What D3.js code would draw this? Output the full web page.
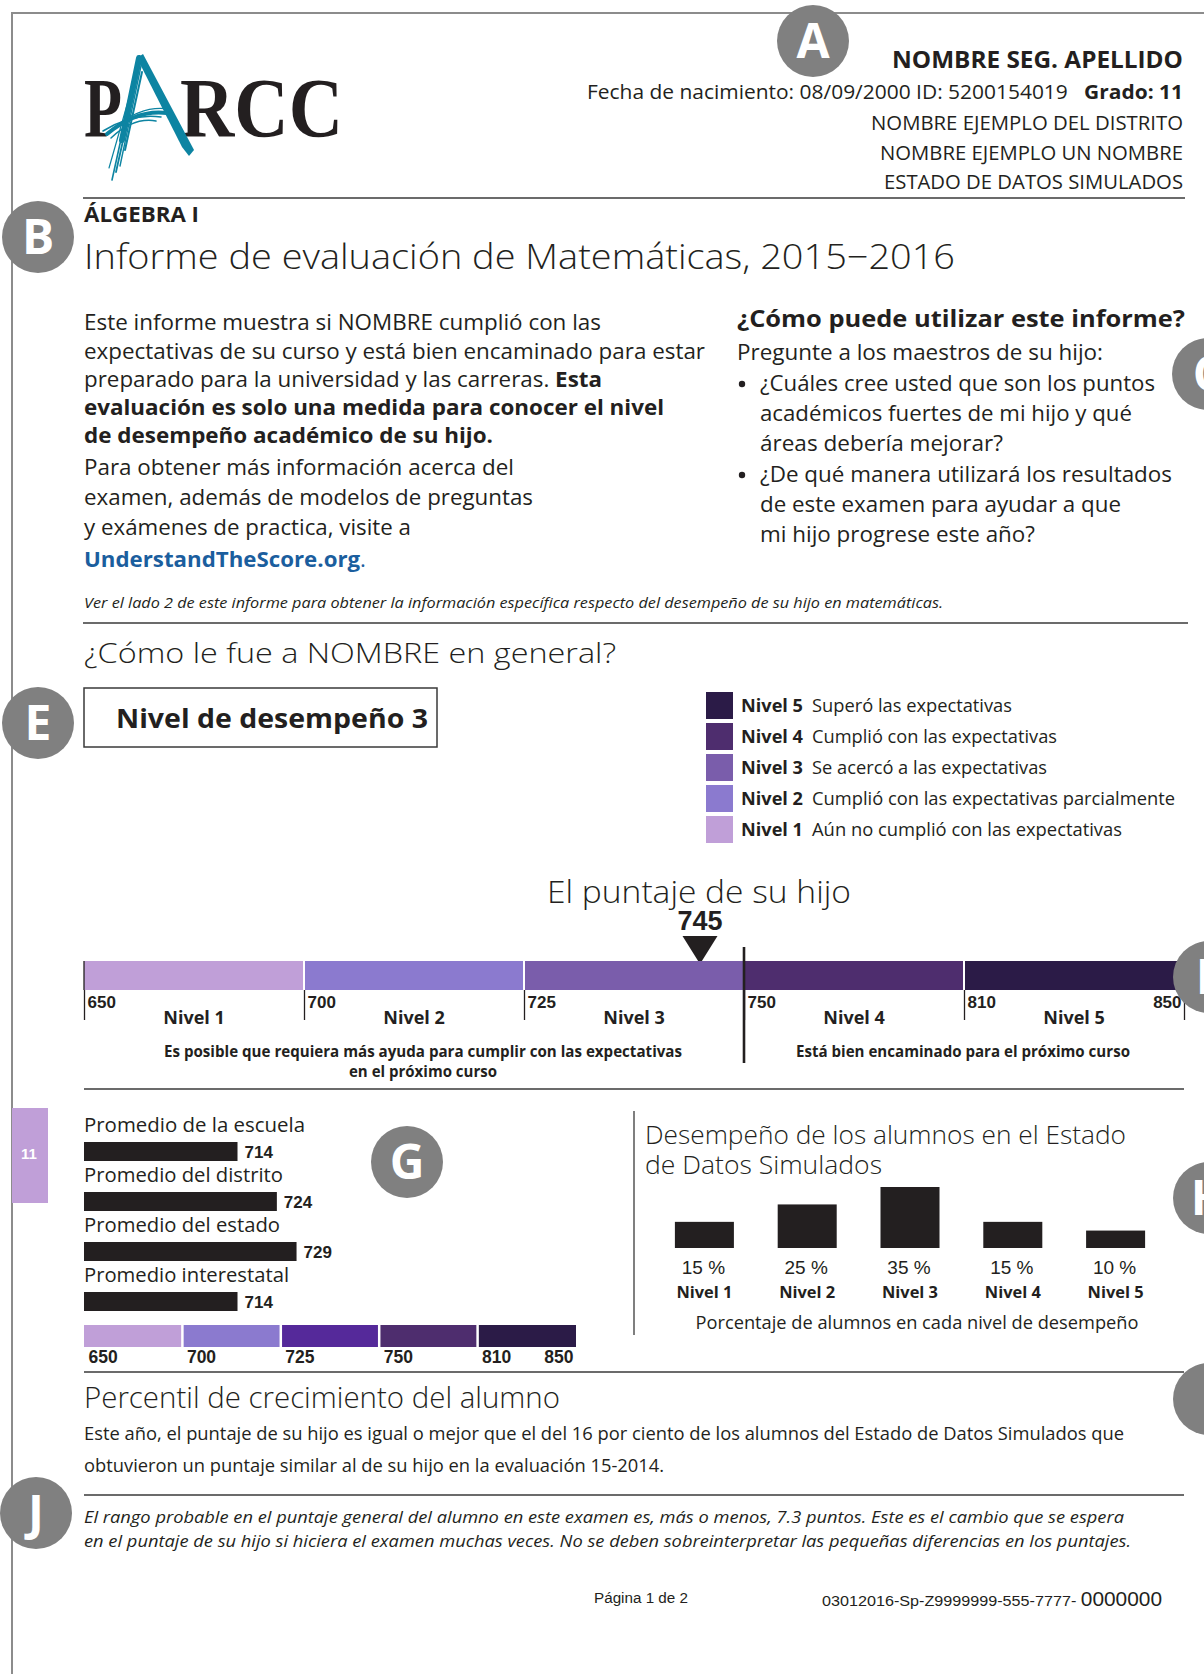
<!DOCTYPE html>
<html>
<head>
<meta charset="utf-8">
<script src="https://cdn.jsdelivr.net/npm/d3@7"></script>
<style>
  html, body { margin: 0; padding: 0; background: #fff; }
  svg { display: block; }
</style>
</head>
<body>
<div id="page"></div>
<script>
// ---- report data ----
const levelNames = ['Nivel 1', 'Nivel 2', 'Nivel 3', 'Nivel 4', 'Nivel 5'];
const levelDescriptions = [
  'Aún no cumplió con las expectativas',
  'Cumplió con las expectativas parcialmente',
  'Se acercó a las expectativas',
  'Cumplió con las expectativas',
  'Superó las expectativas'
];
const levelColors = ['#c09fd8', '#8b7acf', '#7a5dab', '#4e2d6e', '#2b1b47'];
const rangeColors = ['#c09fd8', '#8b7acf', '#55299a', '#4e2d6e', '#2b1b47'];
const cutScores = [650, 700, 725, 750, 810, 850];
const studentScore = 745;
const studentLevel = 3;
const averageLabels = ['Promedio de la escuela', 'Promedio del distrito', 'Promedio del estado', 'Promedio interestatal'];
const averageScores = [714, 724, 729, 714];
const statePercents = [15, 25, 35, 15, 10];
const growthPercentile = 16;
const scoreRange = 7.3;

const headerLines = [
  'NOMBRE EJEMPLO DEL DISTRITO',
  'NOMBRE EJEMPLO UN NOMBRE',
  'ESTADO DE DATOS SIMULADOS'
];
const introLines = [
  [['Este informe muestra si NOMBRE cumplió con las']],
  [['expectativas de su curso y está bien encaminado para estar']],
  [['preparado para la universidad y las carreras. '], ['Esta', 700]],
  [['evaluación es solo una medida para conocer el nivel', 700]],
  [['de desempeño académico de su hijo.', 700]],
  [['Para obtener más información acerca del']],
  [['examen, además de modelos de preguntas']],
  [['y exámenes de practica, visite a']],
  [['UnderstandTheScore.org', 700, '#1b5e9e'], ['.', 400, '#1b5e9e']]
];
const questionLines = [
  ['¿Cuáles cree usted que son los puntos', 'académicos fuertes de mi hijo y qué', 'áreas debería mejorar?'],
  ['¿De qué manera utilizará los resultados', 'de este examen para ayudar a que', 'mi hijo progrese este año?']
];

// ---- page ----
const W = 1204, H = 1674;
const ink = '#231f20';
const SANS = '"Open Sans", "Noto Sans", sans-serif';
const ARIAL = '"Liberation Sans", Arial, sans-serif';

const svg = d3.select('#page').append('svg')
  .attr('width', W).attr('height', H)
  .attr('viewBox', `0 0 ${W} ${H}`)
  .style('font-family', SANS);

function label(g, o) {
  const t = g.append('text')
    .attr('x', o.x).attr('y', o.y)
    .attr('font-family', o.family || SANS)
    .attr('font-size', o.size)
    .attr('font-weight', o.weight || 400)
    .attr('font-style', o.italic ? 'italic' : null)
    .attr('text-anchor', o.anchor || 'start')
    .attr('fill', o.fill || ink);
  const runs = Array.isArray(o.text) ? o.text : [[o.text]];
  runs.forEach(([s, w, f, sz]) => {
    t.append('tspan').text(s)
      .attr('font-weight', w || null)
      .attr('fill', f || null)
      .attr('font-size', sz || null);
  });
  if (o.fit) t.attr('textLength', o.fit).attr('lengthAdjust', 'spacingAndGlyphs');
  return t;
}

function rule(y, x1, x2, w) {
  svg.append('line').attr('x1', x1).attr('x2', x2).attr('y1', y).attr('y2', y)
    .attr('stroke', '#3a3a3a').attr('stroke-width', w || 1.5);
}

// page border
svg.append('path').attr('d', `M${W},13 H12 V${H}`)
  .attr('fill', 'none').attr('stroke', '#8c8c8c').attr('stroke-width', 2);

// ---- logo ----
const logo = svg.append('g');
const serif = '"Liberation Serif", "DejaVu Serif", serif';
label(logo, { x: 84, y: 137, text: 'P', size: 84, weight: 700, family: serif, fit: 38 });
label(logo, { x: 180, y: 137, text: 'RCC', size: 84, weight: 700, family: serif, fit: 163 });
const teal = '#0d84a2';
const brush = logo.append('g').attr('transform', 'translate(-9,0)');
brush.append('path')
  .attr('d', 'M146,58 L152,54 L203,150 L198,156 L191,147 Z')
  .attr('fill', teal);
[[148, 58, 131, 140, 6], [147, 62, 121, 180, 1.6], [149, 64, 125, 172, 1.8], [150, 66, 129, 166, 1.4],
 [146, 70, 118, 168, 1.2], [151, 72, 134, 150, 2]].forEach(([x1, y1, x2, y2, w]) => {
  brush.append('line').attr('x1', x1).attr('y1', y1).attr('x2', x2).attr('y2', y2)
    .attr('stroke', teal).attr('stroke-width', w).attr('stroke-linecap', 'round');
});
[[116, 134, 176, 113, 4], [112, 131, 170, 117, 1.5], [120, 138, 165, 121, 1.5], [125, 126, 178, 109, 1.2]]
  .forEach(([x1, y1, x2, y2, w]) => {
    brush.append('path')
      .attr('d', `M${x1},${y1} Q${(x1 + x2) / 2},${Math.min(y1, y2) - 4} ${x2},${y2}`)
      .attr('fill', 'none').attr('stroke', teal).attr('stroke-width', w).attr('stroke-linecap', 'round');
  });

// ---- header ----
label(svg, { x: 1183, y: 68, text: 'NOMBRE SEG. APELLIDO', size: 24, weight: 700, anchor: 'end', fit: 291 });
label(svg, {
  x: 1183, y: 99, size: 20, anchor: 'end', fit: 596,
  text: [['Fecha de nacimiento: 08/09/2000 ID: 5200154019\u00a0\u00a0\u00a0'], ['Grado: 11', 700]]
});
const headerFits = [312, 303, 299];
headerLines.forEach((s, i) => {
  label(svg, { x: 1183, y: 130 + i * 29.5, text: s, size: 20, anchor: 'end', fit: headerFits[i] });
});
rule(198, 83, 1185);

label(svg, { x: 84, y: 222, text: 'ÁLGEBRA I', size: 21, weight: 700, fit: 115 });
label(svg, { x: 84, y: 269, text: 'Informe de evaluación de Matemáticas, 2015\u22122016', size: 35, weight: 300, fit: 871 });

// intro paragraph
const introY = [330, 359, 387, 415, 443, 475, 505, 535, 567];
const introFits = [517, 621, 518, 580, 409, 430, 449, 327, 282];
introLines.forEach((runs, i) => {
  label(svg, { x: 84, y: introY[i], text: runs, size: 21, fit: introFits[i] });
});

// questions column
label(svg, { x: 737, y: 327, text: '¿Cómo puede utilizar este informe?', size: 24, weight: 700, fit: 448 });
label(svg, { x: 737, y: 360, text: 'Pregunte a los maestros de su hijo:', size: 21, fit: 366 });
const qY = [[391, 421, 451], [482, 512, 542]];
const qFits = [[395, 372, 243], [412, 361, 275]];
questionLines.forEach((lines, i) => {
  svg.append('circle').attr('cx', 742).attr('cy', qY[i][0] - 7).attr('r', 3.2).attr('fill', ink);
  lines.forEach((s, j) => label(svg, { x: 760, y: qY[i][j], text: s, size: 21, fit: qFits[i][j] }));
});

label(svg, {
  x: 84, y: 608, size: 15, italic: true, fit: 859,
  text: 'Ver el lado 2 de este informe para obtener la información específica respecto del desempeño de su hijo en matemáticas.'
});
rule(623, 83, 1188);

// ---- overall performance ----
label(svg, { x: 84, y: 663, text: '¿Cómo le fue a NOMBRE en general?', size: 28, weight: 300, fit: 532 });
svg.append('rect').attr('x', 84).attr('y', 688).attr('width', 353).attr('height', 59)
  .attr('fill', 'none').attr('stroke', '#3a3a3a').attr('stroke-width', 1.5);
label(svg, { x: 116, y: 728, text: `Nivel de desempeño ${studentLevel}`, size: 27, weight: 700, fit: 312 });

// legend
const legendY = d3.scaleBand().domain(levelNames.slice().reverse()).range([692, 847]);
const legendFits = [310, 363, 235, 245, 200];
const legend = svg.append('g').selectAll('g').data(levelNames).join('g')
  .attr('transform', d => `translate(0,${legendY(d)})`);
legend.append('rect').attr('x', 706).attr('width', 27).attr('height', 27)
  .attr('fill', (d, i) => levelColors[i]);
legend.each(function (d, i) {
  const g = d3.select(this);
  label(g, { x: 741, y: 20, text: d, size: 18, weight: 700, fit: 62 });
  label(g, { x: 812, y: 20, text: levelDescriptions[i], size: 18, fit: legendFits[i] });
});

// score bar
const scoreX = d3.scaleLinear().domain(cutScores).range(cutScores.map((d, i) => 84 + i * 220));
const barTop = 961, barH = 29;
label(svg, { x: 699, y: 903, text: 'El puntaje de su hijo', size: 31, weight: 300, anchor: 'middle', fit: 304 });
label(svg, { x: scoreX(studentScore), y: 930, text: String(studentScore), size: 27, weight: 700, family: ARIAL, anchor: 'middle' });
const sx = scoreX(studentScore);
svg.append('path').attr('d', `M${sx - 17.5},936 L${sx + 17.5},936 L${sx},964 Z`).attr('fill', ink);

const segs = d3.pairs(cutScores);
svg.append('g').selectAll('rect').data(segs).join('rect')
  .attr('x', d => scoreX(d[0])).attr('y', barTop)
  .attr('width', d => scoreX(d[1]) - scoreX(d[0])).attr('height', barH)
  .attr('fill', (d, i) => levelColors[i]);
svg.append('g').selectAll('line').data(cutScores.slice(1, -1)).join('line')
  .attr('x1', d => scoreX(d)).attr('x2', d => scoreX(d))
  .attr('y1', barTop).attr('y2', barTop + barH)
  .attr('stroke', '#fff').attr('stroke-width', 2);

const scoreAxis = svg.append('g').attr('transform', `translate(0,${barTop + barH})`)
  .call(d3.axisBottom(scoreX).tickValues(cutScores).tickSize(30).tickFormat(d3.format('d')))
  .attr('font-family', ARIAL).attr('font-size', 17);
scoreAxis.select('.domain').remove();
scoreAxis.selectAll('.tick line').attr('stroke', ink).attr('stroke-width', 1.3);
scoreAxis.selectAll('.tick text')
  .attr('y', 18).attr('dy', null).attr('fill', ink).attr('font-weight', 700)
  .attr('x', d => d === 850 ? -3 : 3)
  .attr('text-anchor', d => d === 850 ? 'end' : 'start');
svg.append('line').attr('x1', scoreX(650)).attr('x2', scoreX(650))
  .attr('y1', barTop).attr('y2', barTop + barH).attr('stroke', ink).attr('stroke-width', 1.3);
svg.append('line').attr('x1', scoreX(750)).attr('x2', scoreX(750))
  .attr('y1', 947).attr('y2', 1063).attr('stroke', ink).attr('stroke-width', 2.6);

segs.forEach((d, i) => {
  label(svg, { x: (scoreX(d[0]) + scoreX(d[1])) / 2, y: 1024, text: levelNames[i], size: 18, weight: 700, anchor: 'middle' });
});
label(svg, { x: 423, y: 1057, text: 'Es posible que requiera más ayuda para cumplir con las expectativas', size: 15.5, weight: 700, anchor: 'middle', fit: 518 });
label(svg, { x: 423, y: 1077, text: 'en el próximo curso', size: 15.5, weight: 700, anchor: 'middle', fit: 148 });
label(svg, { x: 963, y: 1057, text: 'Está bien encaminado para el próximo curso', size: 15.5, weight: 700, anchor: 'middle', fit: 334 });
rule(1089, 84, 1184);

// ---- averages ----
svg.append('rect').attr('x', 12).attr('y', 1108).attr('width', 36).attr('height', 95).attr('fill', levelColors[0]);
label(svg, { x: 29, y: 1159, text: '11', size: 15, weight: 700, family: ARIAL, fill: '#fff', anchor: 'middle' });

const avgX = d3.scaleLinear().domain(cutScores).range(cutScores.map((d, i) => 84 + i * 98.4));
const rowY = d3.scaleBand().domain(averageLabels).range([1112, 1312]);
const avgRows = svg.append('g').selectAll('g').data(averageLabels).join('g')
  .attr('transform', d => `translate(0,${rowY(d)})`);
const avgFits = [221, 199, 196, 205];
avgRows.each(function (d, i) {
  const g = d3.select(this);
  label(g, { x: 84, y: 20, text: d, size: 20, fit: avgFits[i] });
  g.append('rect').attr('x', avgX(650)).attr('y', 30)
    .attr('width', avgX(averageScores[i]) - avgX(650)).attr('height', 19).attr('fill', ink);
  label(g, { x: avgX(averageScores[i]) + 7, y: 46, text: String(averageScores[i]), size: 17, weight: 700, family: ARIAL });
});

svg.append('g').selectAll('rect').data(segs).join('rect')
  .attr('x', d => avgX(d[0])).attr('y', 1325)
  .attr('width', d => avgX(d[1]) - avgX(d[0])).attr('height', 22)
  .attr('fill', (d, i) => rangeColors[i]);
svg.append('g').selectAll('line').data(cutScores.slice(1, -1)).join('line')
  .attr('x1', d => avgX(d)).attr('x2', d => avgX(d))
  .attr('y1', 1325).attr('y2', 1347)
  .attr('stroke', '#fff').attr('stroke-width', 2.5);
const avgAxis = svg.append('g').attr('transform', 'translate(0,1347)')
  .call(d3.axisBottom(avgX).tickValues(cutScores).tickSize(0).tickFormat(d3.format('d')))
  .attr('font-family', ARIAL).attr('font-size', 17.5);
avgAxis.select('.domain').remove();
avgAxis.selectAll('.tick text')
  .attr('y', 16).attr('dy', null).attr('fill', ink).attr('font-weight', 700)
  .attr('x', d => d === 850 ? -3 : 4)
  .attr('text-anchor', d => d === 850 ? 'end' : 'start');

svg.append('line').attr('x1', 634).attr('x2', 634).attr('y1', 1111).attr('y2', 1335)
  .attr('stroke', '#555').attr('stroke-width', 1.5);

// ---- state distribution ----
label(svg, { x: 645, y: 1144, text: 'Desempeño de los alumnos en el Estado', size: 25, weight: 300, fit: 481 });
label(svg, { x: 645, y: 1174, text: 'de Datos Simulados', size: 25, weight: 300, fit: 237 });
const levelX = d3.scaleBand().domain(levelNames).range([653, 1167]).paddingInner(0.426).paddingOuter(0.213);
const pctY = d3.scaleLinear().domain([0, 35]).range([1248, 1187]);
svg.append('g').selectAll('rect').data(statePercents).join('rect')
  .attr('x', (d, i) => levelX(levelNames[i])).attr('width', levelX.bandwidth())
  .attr('y', d => pctY(d)).attr('height', d => pctY(0) - pctY(d))
  .attr('fill', ink);
statePercents.forEach((p, i) => {
  const cx = levelX(levelNames[i]) + levelX.bandwidth() / 2;
  label(svg, { x: cx - 1, y: 1274, text: `${p} %`, size: 19, family: ARIAL, anchor: 'middle' });
  label(svg, { x: cx, y: 1298, text: levelNames[i], size: 16.5, weight: 700, anchor: 'middle', fit: 56 });
});
label(svg, { x: 917, y: 1329, text: 'Porcentaje de alumnos en cada nivel de desempeño', size: 19, anchor: 'middle', fit: 443 });
rule(1372, 84, 1184);

// ---- growth ----
label(svg, { x: 84, y: 1408, text: 'Percentil de crecimiento del alumno', size: 29, weight: 300, fit: 476 });
label(svg, {
  x: 84, y: 1440, size: 18.5, fit: 1040,
  text: `Este año, el puntaje de su hijo es igual o mejor que el del ${growthPercentile} por ciento de los alumnos del Estado de Datos Simulados que`
});
label(svg, { x: 84, y: 1472, size: 18.5, fit: 580, text: 'obtuvieron un puntaje similar al de su hijo en la evaluación 15-2014.' });
rule(1495, 84, 1184);
label(svg, {
  x: 84, y: 1523, size: 17, italic: true, fit: 1040,
  text: `El rango probable en el puntaje general del alumno en este examen es, más o menos, ${scoreRange} puntos. Este es el cambio que se espera`
});
label(svg, {
  x: 84, y: 1547, size: 17, italic: true, fit: 1047,
  text: 'en el puntaje de su hijo si hiciera el examen muchas veces. No se deben sobreinterpretar las pequeñas diferencias en los puntajes.'
});

// footer
label(svg, { x: 594, y: 1603, text: 'Página 1 de 2', size: 15.5, family: ARIAL, fit: 94 });
label(svg, {
  x: 822, y: 1606, size: 15.5, family: ARIAL, fit: 340,
  text: [['03012016-Sp-Z9999999-555-7777- '], ['0000000', 400, null, 20]]
});

// ---- callout badges ----
const callouts = [['A', 813, 41], ['B', 38, 237], ['C', 1208, 374], ['E', 38, 723], ['F', 1209, 977],
  ['G', 407, 1162], ['H', 1209, 1198], ['I', 1209, 1399], ['J', 36, 1513]];
const badge = svg.append('g').selectAll('g').data(callouts).join('g')
  .attr('transform', d => `translate(${d[1]},${d[2]})`);
badge.append('circle').attr('r', 36).attr('fill', '#808080');
badge.append('text').text(d => d[0])
  .attr('y', 17).attr('text-anchor', 'middle')
  .attr('font-family', SANS).attr('font-weight', 700).attr('font-size', 48).attr('fill', '#fff');
</script>
</body>
</html>
